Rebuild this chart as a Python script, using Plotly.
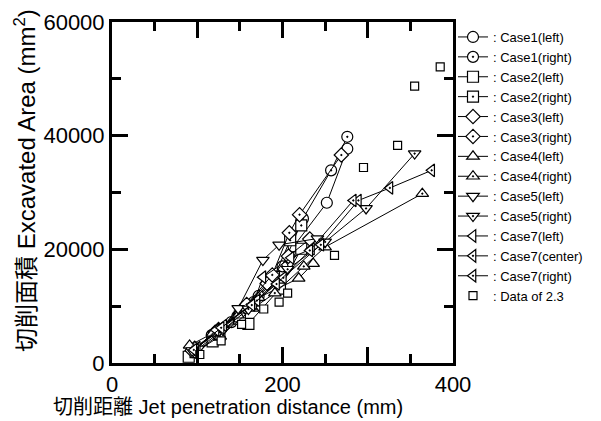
import plotly.graph_objects as go

# ---- data ----
case1_left_x = [93, 117, 140, 166, 190, 213, 252, 276]
case1_left_y = [2000, 4900, 7200, 10700, 14500, 20500, 28200, 37700]
case1_right_x = [96, 122, 147, 172, 200, 224, 257, 276]
case1_right_y = [2300, 5300, 8200, 11800, 17000, 25400, 33900, 39800]
case2_left_x = [90, 118, 149, 160, 197, 222]
case2_left_y = [1100, 3800, 7800, 6900, 13100, 20100]
case2_right_x = [98, 126, 150, 190, 209, 222]
case2_right_y = [1900, 5000, 8200, 15100, 21600, 24200]
case3_left_x = [94, 121, 156, 182, 207, 232]
case3_left_y = [2200, 5400, 9900, 14000, 18800, 21800]
case3_right_x = [97, 125, 158, 188, 208, 220, 269]
case3_right_y = [2600, 5900, 10300, 15500, 22900, 26100, 36600]
case4_left_x = [91, 118, 148, 172, 219, 236]
case4_left_y = [3100, 5200, 8400, 11500, 14900, 17500]
case4_right_x = [99, 127, 165, 191, 225, 250, 364]
case4_right_y = [2100, 4700, 9600, 12300, 17000, 20400, 29800]
case5_left_x = [94, 125, 148, 177, 196, 241]
case5_left_y = [2200, 5500, 9600, 18100, 20800, 21900]
case5_right_x = [101, 130, 160, 206, 250, 298, 355]
case5_right_y = [2500, 5800, 9500, 16500, 21300, 27200, 36850]
case7_left_x = [100, 122, 166, 177, 210, 234]
case7_left_y = [2700, 5800, 10500, 15100, 18500, 20100]
case7_center_x = [98, 131, 170, 201, 245, 289, 326, 375]
case7_center_y = [2400, 6600, 11000, 15000, 20800, 28600, 30800, 33900]
case7_right_x = [96, 128, 164, 193, 232, 283]
case7_right_y = [2300, 6200, 10200, 13900, 19800, 28600]
data23_x = [103, 128, 152, 178, 196, 206, 261, 295, 335, 355, 385]
data23_y = [1500, 3900, 6800, 9500, 10700, 12300, 18950, 34400, 38300, 48700, 52100]

x_tickvals = [0, 100, 200, 300, 400]
x_ticktext = ["0", "", "200", "", "400"]
y_tickvals = [0, 20000, 40000, 60000]
y_ticktext = ["0", "20000", "40000", "60000"]

x_title = "切削距離 Jet penetration distance (mm)"
y_title = "切削面積 Excavated Area (mm<sup>2</sup>)"

series = [
    (": Case1(left)", case1_left_x, case1_left_y, "circle"),
    (": Case1(right)", case1_right_x, case1_right_y, "circle-dot"),
    (": Case2(left)", case2_left_x, case2_left_y, "square"),
    (": Case2(right)", case2_right_x, case2_right_y, "square-dot"),
    (": Case3(left)", case3_left_x, case3_left_y, "diamond"),
    (": Case3(right)", case3_right_x, case3_right_y, "diamond-dot"),
    (": Case4(left)", case4_left_x, case4_left_y, "triangle-up"),
    (": Case4(right)", case4_right_x, case4_right_y, "triangle-up-dot"),
    (": Case5(left)", case5_left_x, case5_left_y, "triangle-down"),
    (": Case5(right)", case5_right_x, case5_right_y, "triangle-down-dot"),
    (": Case7(left)", case7_left_x, case7_left_y, "triangle-left"),
    (": Case7(center)", case7_center_x, case7_center_y, "triangle-left-dot"),
    (": Case7(right)", case7_right_x, case7_right_y, "triangle-left-dot"),
]

FONT = "Liberation Sans, Arial, Noto Sans CJK JP, sans-serif"

fig = go.Figure()
for name, xs, ys, sym in series:
    fig.add_trace(go.Scatter(
        x=xs, y=ys, name=name, mode="lines+markers",
        line=dict(color="black", width=1),
        marker=dict(symbol=sym, size=11, color="white",
                    line=dict(color="black", width=1.2)),
        cliponaxis=False,
    ))
fig.add_trace(go.Scatter(
    x=data23_x, y=data23_y, name=": Data of 2.3", mode="markers",
    marker=dict(symbol="square", size=8, color="white",
                line=dict(color="black", width=1.2)),
    cliponaxis=False,
))

axis_common = dict(
    showline=True, linecolor="black", linewidth=3, mirror="ticks",
    ticks="inside", ticklen=16, tickwidth=3, tickcolor="black",
    showgrid=False, zeroline=False, automargin=False,
    tickfont=dict(family=FONT, size=22, color="black"),
)

fig.update_xaxes(
    range=[0, 400], tickvals=x_tickvals, ticktext=x_ticktext,
    minor=dict(ticks="inside", ticklen=9, tickwidth=3, tickcolor="black", dtick=50),
    **axis_common,
)
fig.update_yaxes(
    range=[0, 60000], tickvals=y_tickvals, ticktext=y_ticktext,
    minor=dict(ticks="inside", ticklen=9, tickwidth=3, tickcolor="black", dtick=10000),
    **axis_common,
)

# axis titles placed as annotations (the original titles are not centred on the axes)
fig.add_annotation(text=x_title, xref="paper", yref="paper",
                   x=0.339, y=-0.130, xanchor="center", yanchor="middle",
                   showarrow=False, font=dict(family=FONT, size=20, color="black"))
fig.add_annotation(text=y_title, xref="paper", yref="paper",
                   x=-0.255, y=0.534, xanchor="center", yanchor="middle",
                   textangle=-90, showarrow=False,
                   font=dict(family=FONT, size=24, color="black"))

# the page body adds an 8px offset, so the figure is sized to the remaining window
fig.update_layout(
    width=593, height=413,
    margin=dict(l=104, r=148, t=14, b=58, autoexpand=False),
    paper_bgcolor="white", plot_bgcolor="white",
    font=dict(family=FONT, color="black"),
    legend=dict(x=1.0, y=1.0, xanchor="left", yanchor="top",
                font=dict(family=FONT, size=13, color="black"),
                itemwidth=30, tracegroupgap=0, bgcolor="rgba(0,0,0,0)",
                borderwidth=0),
)

fig.write_html("out.html")
